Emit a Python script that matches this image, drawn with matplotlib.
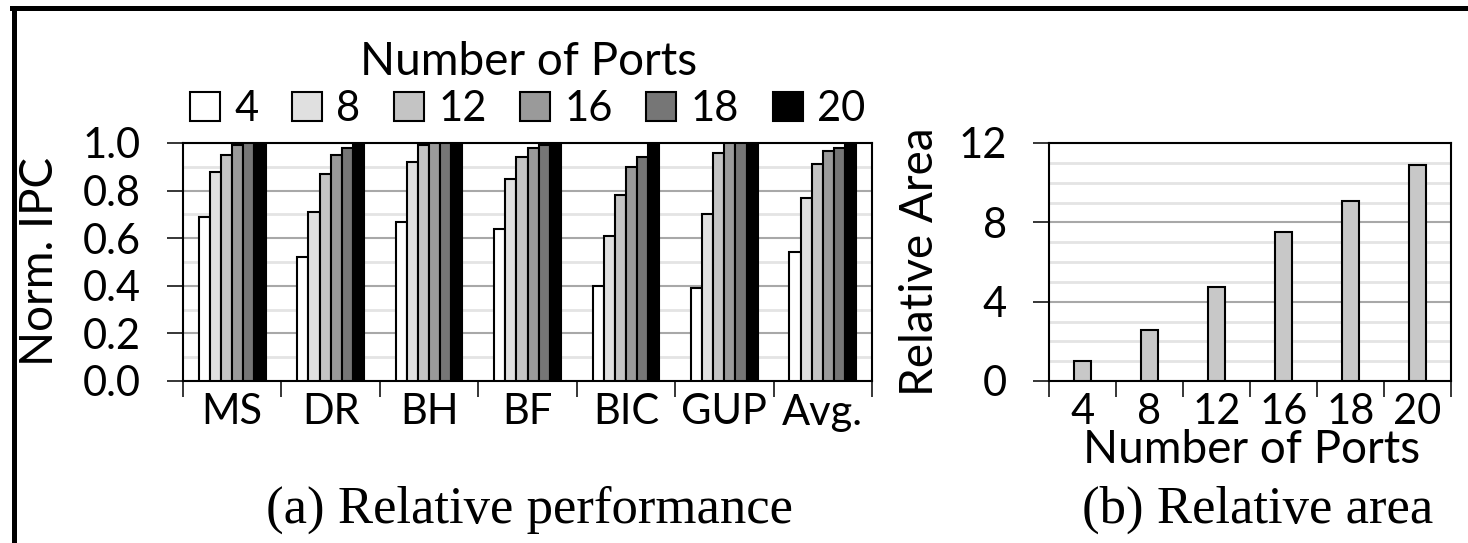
import numpy as np
import matplotlib
matplotlib.use("Agg")
import matplotlib.pyplot as plt
from matplotlib.ticker import MultipleLocator, FixedLocator, FormatStrFormatter
from matplotlib.lines import Line2D

plt.rcParams['font.family'] = ['Lato', 'DejaVu Sans']

# ---- data ----
benchmarks = ["MS", "DR", "BH", "BF", "BIC", "GUP", "Avg."]
ports = ["4", "8", "12", "16", "18", "20"]
ipc_4 = [0.69, 0.52, 0.67, 0.64, 0.40, 0.39, 0.54]
ipc_8 = [0.88, 0.71, 0.92, 0.85, 0.61, 0.70, 0.77]
ipc_12 = [0.95, 0.87, 0.99, 0.94, 0.78, 0.96, 0.91]
ipc_16 = [0.99, 0.95, 1.00, 0.98, 0.90, 1.00, 0.965]
ipc_18 = [1.00, 0.98, 1.00, 0.99, 0.94, 1.00, 0.98]
ipc_20 = [1.00, 1.00, 1.00, 1.00, 1.00, 1.00, 1.00]
area = [1.0, 2.55, 4.75, 7.5, 9.1, 10.9]

series = [ipc_4, ipc_8, ipc_12, ipc_16, ipc_18, ipc_20]
colors = ["#ffffff", "#e0e0e0", "#c4c4c4", "#9a9a9a", "#767676", "#000000"]

W, H = 1468, 543
fig = plt.figure(figsize=(W / 100, H / 100), dpi=100)

def px_axes(x0, y0, x1, y1):
    return fig.add_axes([x0 / W, 1 - y1 / H, (x1 - x0) / W, (y1 - y0) / H])

tick_fs = 30
label_fs = 33
major_grid = "#a8a8a8"
minor_grid = "#e4e4e4"

def style(ax):
    for s in ax.spines.values():
        s.set_linewidth(1.5)
    ax.tick_params(axis='y', which='major', direction='out', length=11.5, width=1.1,
                   labelsize=tick_fs, pad=19)
    ax.tick_params(axis='y', which='minor', length=0)
    ax.tick_params(axis='x', which='major', direction='out', length=11.5, width=1.1,
                   labelbottom=False)
    ax.tick_params(axis='x', which='minor', length=0, labelsize=tick_fs, pad=9)
    ax.grid(axis='y', which='major', color=major_grid, lw=1.5)
    ax.grid(axis='y', which='minor', color=minor_grid, lw=2)
    ax.set_axisbelow(True)

# ---- (a) relative performance ----
ax1 = px_axes(183, 143, 872, 381)
x = np.arange(len(benchmarks))
bw = 0.113
for i, (vals, c) in enumerate(zip(series, colors)):
    ax1.bar(x + (i - 2.5) * bw, vals, bw, color=c, edgecolor="black", lw=1.5,
            label=ports[i], zorder=3)
ax1.set_xlim(-0.5, len(benchmarks) - 0.5)
ax1.set_ylim(0, 1.0)
ax1.yaxis.set_major_locator(MultipleLocator(0.2))
ax1.yaxis.set_minor_locator(MultipleLocator(0.1))
ax1.yaxis.set_major_formatter(FormatStrFormatter("%.1f"))
ax1.xaxis.set_major_locator(FixedLocator(np.arange(-0.5, len(benchmarks), 1.0)))
ax1.set_xticks(x, benchmarks, minor=True)
style(ax1)
ax1.set_ylabel("Norm. IPC", fontsize=label_fs)
ax1.yaxis.set_label_coords(-0.2075, 0.5)
ax1.yaxis.label.set_va("center")

leg = ax1.legend(ncol=6, loc="center", bbox_to_anchor=(0.5, 1 + (381 - 109) / 238 - 1),
                 frameon=False, fontsize=tick_fs,
                 handlelength=0.72, handleheight=0.72,
                 handletextpad=0.35, columnspacing=0.8, borderaxespad=0,
                 borderpad=0, labelspacing=0)
fig.text(529 / W, 1 - 62 / H, "Number of Ports", fontsize=label_fs,
         ha="center", va="center")

# ---- (b) relative area ----
ax2 = px_axes(1049, 143, 1451, 381)
x2 = np.arange(len(ports))
ax2.bar(x2, area, 0.26, color="#c8c8c8", edgecolor="black", lw=1.5, zorder=3)
ax2.set_xlim(-0.5, len(ports) - 0.5)
ax2.set_ylim(0, 12)
ax2.yaxis.set_major_locator(MultipleLocator(4))
ax2.yaxis.set_minor_locator(MultipleLocator(1))
ax2.xaxis.set_major_locator(FixedLocator(np.arange(-0.5, len(ports), 1.0)))
ax2.set_xticks(x2, ports, minor=True)
style(ax2)
ax2.set_ylabel("Relative Area", fontsize=label_fs)
ax2.yaxis.set_label_coords(-0.321, 0.5)
ax2.yaxis.label.set_va("center")
ax2.set_xlabel("Number of Ports", fontsize=label_fs)
ax2.xaxis.set_label_coords(0.505, -0.29)
ax2.xaxis.label.set_va("center")

# ---- captions ----
fig.text(530 / W, 1 - 510 / H, "(a) Relative performance", family="Liberation Serif",
         fontsize=38, ha="center", va="center")
fig.text(1258 / W, 1 - 510 / H, "(b) Relative area", family="Liberation Serif",
         fontsize=38, ha="center", va="center")

# ---- page frame ----
fig.add_artist(Line2D([12 / W, 1.0], [1 - 8 / H, 1 - 8 / H], color="black", lw=3.6,
                      transform=fig.transFigure))
fig.add_artist(Line2D([14 / W, 14 / W], [0, 1 - 8 / H], color="black", lw=3.6,
                      transform=fig.transFigure, solid_capstyle="projecting"))

fig.savefig("out.png", dpi=100)
